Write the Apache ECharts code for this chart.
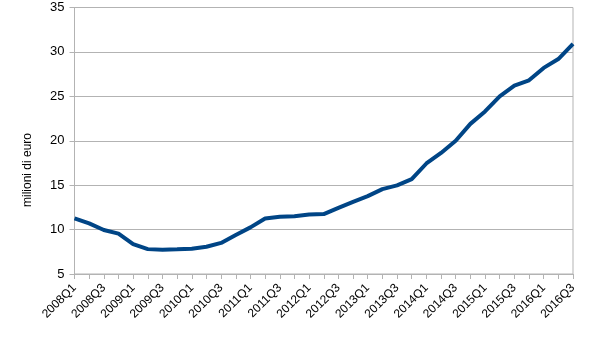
<!DOCTYPE html>
<html><head><meta charset="utf-8">
<script src="https://cdn.jsdelivr.net/npm/echarts@6/dist/echarts.min.js"></script>
<style>html,body{margin:0;padding:0;background:#fff}#c{width:605px;height:340px}</style>
</head><body><div id="c"></div>
<script>
const categories = [];
const years = [2008,2009,2010,2011,2012,2013,2014,2015,2016];
for (const y of years) for (let q = 1; q <= 4; q++) { if (y === 2016 && q > 3) break; categories.push(y + 'Q' + q); }
const values = [11.27, 10.7, 9.95, 9.55, 8.37, 7.8, 7.72, 7.78, 7.85, 8.07, 8.5, 9.4, 10.25, 11.25, 11.45, 11.5, 11.7, 11.75, 12.45, 13.13, 13.77, 14.55, 14.97, 15.67, 17.44, 18.63, 20.0, 21.9, 23.3, 25.0, 26.2, 26.8, 28.2, 29.2, 30.9];
const yTicks = { min: 5, max: 35, interval: 5 };
const yName = 'milioni di euro';

const chart = echarts.init(document.getElementById('c'));
chart.setOption({
  animation: false,
  grid: { left: 74.5, right: 32, top: 7.5, bottom: 66, show: true, borderColor: '#b3b3b3', borderWidth: 1, backgroundColor: 'transparent' },
  graphic: [{ type: 'text', rotation: Math.PI/2, x: 28, y: 170, style: { text: yName, font: '12px "Liberation Sans", Arial, sans-serif', fill: '#000', textAlign: 'center', textVerticalAlign: 'middle' } }],
  xAxis: {
    type: 'category', data: categories, boundaryGap: false,
    axisLine: { lineStyle: { color: '#b3b3b3', width: 1 } },
    axisTick: { show: true, interval: 0, length: 5, inside: false, lineStyle: { color: '#b3b3b3' } },
    axisLabel: { interval: 1, rotate: 45, color: '#000', fontSize: 12, fontFamily: 'Liberation Sans', margin: 12 },
    splitLine: { show: false }
  },
  yAxis: {
    type: 'value', min: yTicks.min, max: yTicks.max, interval: yTicks.interval,
    axisLine: { show: true, lineStyle: { color: '#b3b3b3' } },
    axisTick: { show: true, length: 5, lineStyle: { color: '#b3b3b3' } },
    axisLabel: { color: '#000', fontSize: 13, fontFamily: 'Liberation Sans', margin: 10 },
    splitLine: { show: true, lineStyle: { color: '#b3b3b3', width: 1 } }
  },
  series: [{ type: 'line', data: values, showSymbol: false, lineStyle: { color: '#004586', width: 4 }, itemStyle: { color: '#004586' } }]
});
</script></body></html>
